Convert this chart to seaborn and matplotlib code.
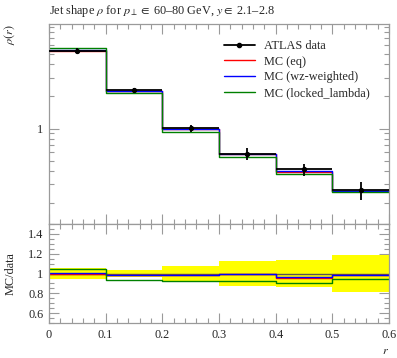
import numpy as np
import pandas as pd
import matplotlib
matplotlib.use("Agg")
import matplotlib.pyplot as plt
from matplotlib.lines import Line2D
from matplotlib.ticker import FixedLocator, MultipleLocator, FuncFormatter, NullFormatter
import seaborn as sns

# ---- data ----
bin_edges = [0.0, 0.1, 0.2, 0.3, 0.4, 0.5, 0.6]
data_rho = [5.36, 2.30, 1.01, 0.584, 0.414, 0.267]
data_relerr = [0.055, 0.04, 0.075, 0.13, 0.135, 0.19]
ratio_eq = [1.00, 0.985, 0.98, 0.99, 0.955, 0.98]
ratio_wz = [1.005, 0.985, 0.985, 0.995, 0.96, 0.985]
ratio_locked = [1.05, 0.93, 0.925, 0.925, 0.905, 0.945]
legend_labels = ["ATLAS data", "MC (eq)", "MC (wz-weighted)", "MC (locked_lambda)"]
title = r"Jet shape $\rho$ for $p_\perp \in$ 60–80 GeV, $y \in$ 2.1–2.8"

sns.set_theme(style="ticks")
plt.rcParams["font.family"] = ["Liberation Serif", "DejaVu Serif"]
plt.rcParams["mathtext.fontset"] = "stix"

edges = np.array(bin_edges)
centers = 0.5 * (edges[:-1] + edges[1:])
d = np.array(data_rho)
err = np.array(data_relerr)
mcs = {
    "MC (eq)": (np.array(ratio_eq), "#ff0000"),
    "MC (wz-weighted)": (np.array(ratio_wz), "#0000ff"),
    "MC (locked_lambda)": (np.array(ratio_locked), "#008000"),
}

fig = plt.figure(figsize=(3.97, 3.58), dpi=100)
L, R = 49 / 397, 389 / 397
ax = fig.add_axes([L, 1 - 224 / 358, R - L, 200 / 358])
axr = fig.add_axes([L, 1 - 323 / 358, R - L, 99 / 358], sharex=ax)

gray = "#9a9a9a"
fs = 8.8

def step_df(vals):
    return pd.DataFrame({"x": edges, "y": np.append(vals, vals[-1])})

# main panel
handles = {}
for name, (rat, col) in mcs.items():
    df = step_df(d * rat)
    sns.lineplot(data=df, x="x", y="y", ax=ax, drawstyle="steps-post",
                 color=col, lw=1.0, legend=False)
    handles[name] = Line2D([], [], color=col, lw=1.0)
ax.errorbar(centers, d, xerr=0.05, yerr=d * err, fmt="o", color="black",
            ms=2.8, lw=1.3, capsize=0, zorder=5)
handles["ATLAS data"] = Line2D([], [], color="black", lw=1.3, marker="o", ms=3)
ax.set_yscale("log")
ax.set_xlim(0, 0.6)
ax.set_ylim(0.128, 9.5)

# ratio panel
dfb = pd.DataFrame({"x": edges, "lo": np.append(1 - err, 1 - err[-1]),
                    "hi": np.append(1 + err, 1 + err[-1])})
axr.fill_between(dfb["x"], dfb["lo"], dfb["hi"], step="post", color="#ffff00", lw=0)
sns.lineplot(data=step_df(np.ones(6)), x="x", y="y", ax=axr, drawstyle="steps-post",
             color="#555555", lw=1.0, legend=False)
for name, (rat, col) in mcs.items():
    sns.lineplot(data=step_df(rat), x="x", y="y", ax=axr, drawstyle="steps-post",
                 color=col, lw=1.0, legend=False)
axr.set_ylim(0.5, 1.5)

for a in (ax, axr):
    for s in a.spines.values():
        s.set_color(gray)
        s.set_linewidth(0.9)
    a.tick_params(which="both", direction="in", top=True, right=True, color=gray,
                  labelsize=fs, pad=4)
    a.tick_params(which="major", length=7, width=0.8)
    a.tick_params(which="minor", length=3.5, width=0.8)
    a.xaxis.set_major_locator(MultipleLocator(0.1))
    a.xaxis.set_minor_locator(MultipleLocator(0.02))
    a.set_xlabel("")
    a.set_ylabel("")

ax.yaxis.set_major_locator(FixedLocator([1]))
ax.yaxis.set_major_formatter(FuncFormatter(lambda v, p: "%g" % v))
minors = [0.2, 0.3, 0.4, 0.5, 0.6, 0.7, 0.8, 0.9, 2, 3, 4, 5, 6, 7, 8, 9]
ax.yaxis.set_minor_locator(FixedLocator(minors))
ax.yaxis.set_minor_formatter(NullFormatter())
ax.tick_params(axis="x", labelbottom=False)

axr.yaxis.set_major_locator(MultipleLocator(0.2))
axr.yaxis.set_minor_locator(MultipleLocator(0.05))
axr.yaxis.set_major_formatter(FuncFormatter(lambda v, p: "%g" % round(v, 2)))
axr.xaxis.set_major_formatter(FuncFormatter(lambda v, p: "%g" % round(v, 2)))

ax.set_title(title, loc="left", fontsize=fs, pad=7)
ax.set_ylabel(r"$\rho(r)$", loc="top", fontsize=fs)
ax.yaxis.set_label_coords(-0.095, 1.0)
axr.set_ylabel("MC/data", fontsize=fs)
axr.yaxis.set_label_coords(-0.095, 0.5)
axr.set_xlabel(r"$r$", loc="right", fontsize=fs, labelpad=3)

ax.legend([handles[l] for l in legend_labels], legend_labels,
          loc="upper left", bbox_to_anchor=(0.515, 0.92), frameon=False,
          fontsize=fs, handlelength=2.5, handletextpad=0.75, labelspacing=0.3,
          borderaxespad=0, borderpad=0)

fig.savefig("out.png", dpi=100)
